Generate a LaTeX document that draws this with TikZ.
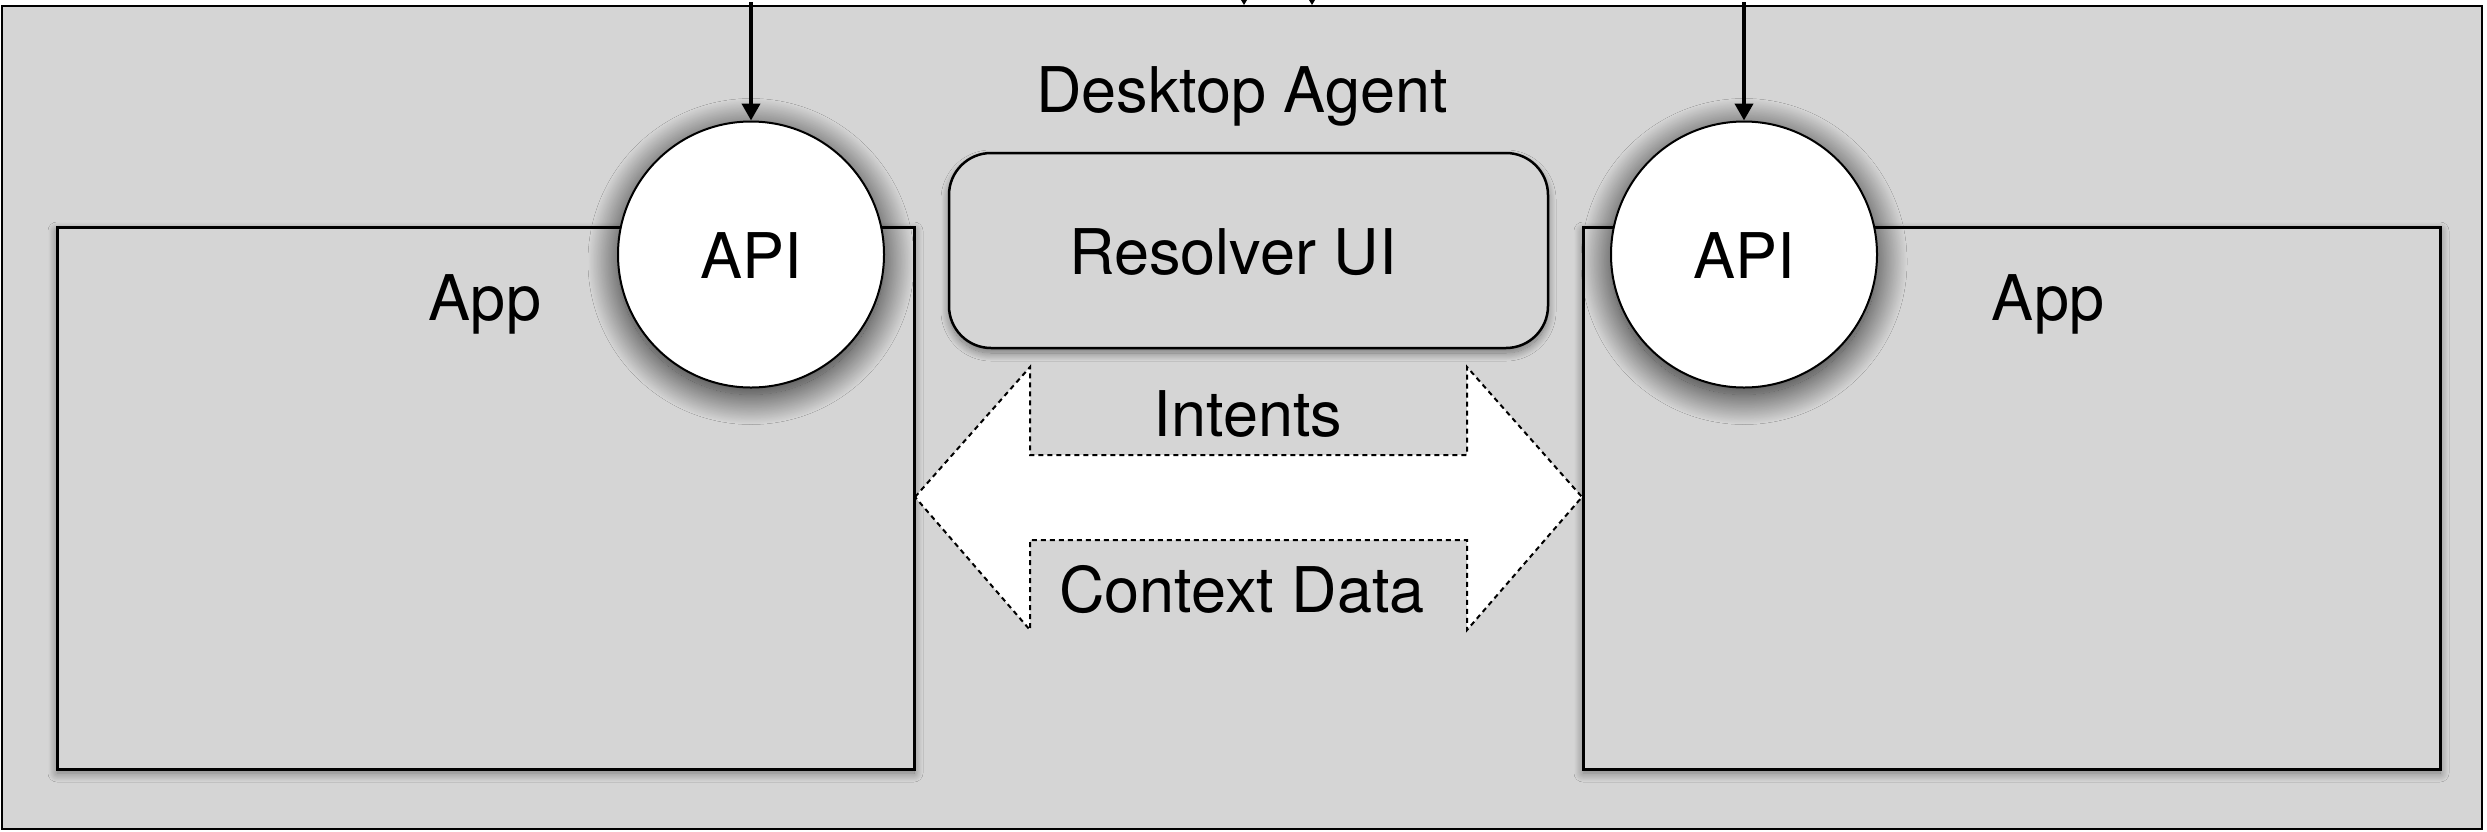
\documentclass[tikz,border=0pt]{standalone}
\usepackage{fontspec}
\setmainfont{TeX Gyre Heros}
\usetikzlibrary{shadows.blur,arrows.meta}
\definecolor{bggray}{HTML}{D5D5D5}
\tikzset{
  lbl/.style={font=\fontsize{63}{70}\selectfont, inner sep=0pt, anchor=center},
  appbox/.style={draw=black, line width=3pt, fill=bggray,
    blur shadow={shadow xshift=0pt, shadow yshift=-4pt, shadow blur radius=9pt, shadow opacity=45, shadow blur steps=20}},
  apicirc/.style={circle, draw=black, line width=2pt, fill=white, minimum size=266pt, inner sep=0pt,
    blur shadow={shadow xshift=0pt, shadow yshift=-7pt, shadow blur radius=30pt, shadow opacity=85, shadow blur steps=50}},
  resbox/.style={draw=black, line width=2.5pt, fill=bggray, rounded corners=42pt,
    blur shadow={shadow xshift=0pt, shadow yshift=-5pt, shadow blur radius=8pt, shadow opacity=45, shadow blur steps=20}},
  callarrow/.style={line width=4pt, -{Triangle[width=18pt,length=17pt]}},
  flowarrow/.style={fill=white, draw=black, line width=2pt, dash pattern=on 5pt off 4pt},
}
\begin{document}
\begin{tikzpicture}[x=1pt,y=-1pt]
\useasboundingbox (0,0) rectangle (2487,831);
% outer desktop agent box
\draw[line width=2pt, fill=bggray] (2,6) rectangle (2482,829);
% tiny clipped tips at top
\fill (1241,0) -- (1247,0) -- (1244,5) -- cycle;
\fill (1309,0) -- (1315,0) -- (1312,5) -- cycle;
\node[lbl] (da) at (1242,96) {Desktop Agent};
% app boxes
\node[appbox, minimum width=857pt, minimum height=542pt, inner sep=0pt] (app1) at (485.5,498) {};
\node[appbox, minimum width=857pt, minimum height=542pt, inner sep=0pt] (app2) at (2011.5,498) {};
\node[lbl] (app1l) at (485,304) {App};
\node[lbl] (app2l) at (2048,304) {App};
% resolver
\node[resbox, minimum width=599pt, minimum height=195pt, inner sep=0pt] (res) at (1248.5,250.5) {};
\node[lbl] (resl) at (1233,252) {Resolver UI};
% double arrow
\coordinate (lt) at (915,497);
\coordinate (rt) at (1582,497);
\draw[flowarrow] (lt) -- (1030,367) -- (1030,455) -- (1467,455) -- (1467,367) -- (rt)
  -- (1467,630) -- (1467,540) -- (1030,540) -- (1030,630) -- cycle;
\node[lbl] (int) at (1248,414) {Intents};
\node[lbl] (ctx) at (1242,590) {Context Data};
% API circles
\node[apicirc] (api1) at (751,254.5) {};
\node[lbl] (api1l) at (751,256) {API};
\node[apicirc] (api2) at (1744,254.5) {};
\node[lbl] (api2l) at (1744,256) {API};
% incoming calls
\coordinate (in1) at (751,2);
\coordinate (in2) at (1744,2);
\draw[callarrow] (in1) -- (api1.north);
\draw[callarrow] (in2) -- (api2.north);
\end{tikzpicture}
\end{document}
